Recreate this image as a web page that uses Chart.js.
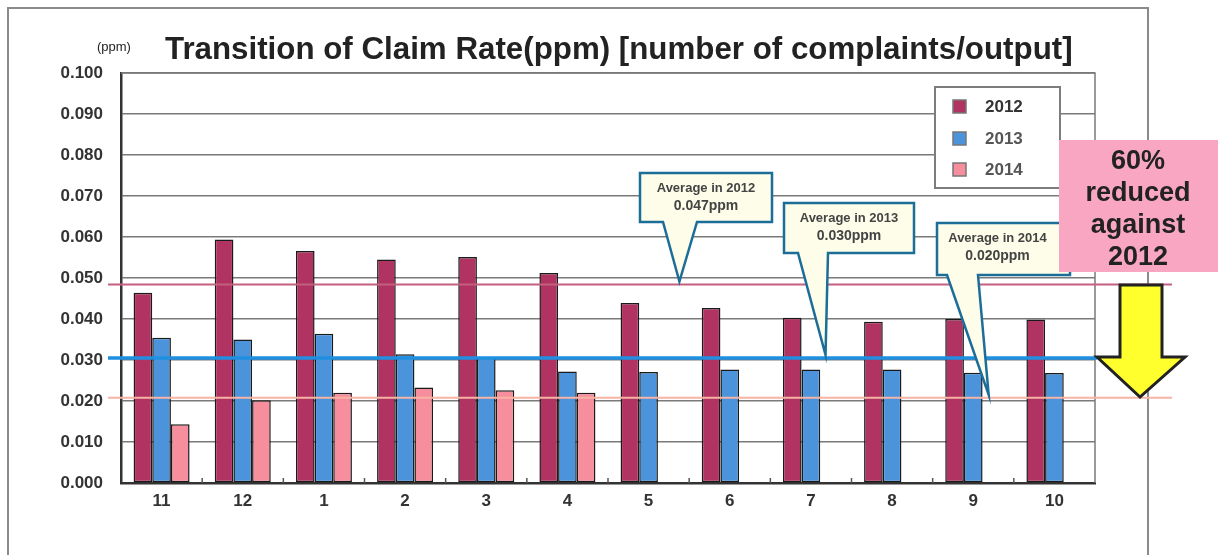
<!DOCTYPE html>
<html>
<head>
<meta charset="utf-8">
<script src="https://cdn.jsdelivr.net/npm/chart.js@4.4.1/dist/chart.umd.min.js"></script>
<style>
  html, body { margin: 0; padding: 0; background: #fff; }
  canvas { display: block; }
</style>
</head>
<body>
<canvas id="chart" width="1218" height="555"></canvas>
<script>
// months, Nov 2011/12/13 -> Oct
const months = ["11", "12", "1", "2", "3", "4", "5", "6", "7", "8", "9", "10"];
const years = ["2012", "2013", "2014"];
const rate2012 = [0.0464, 0.0594, 0.0566, 0.0545, 0.0551, 0.0512, 0.0439, 0.0427, 0.0403, 0.0393, 0.0400, 0.0399];
const rate2013 = [0.0354, 0.0350, 0.0364, 0.0314, 0.0306, 0.0272, 0.0271, 0.0277, 0.0277, 0.0277, 0.0269, 0.0268];
const rate2014 = [0.0143, 0.0202, 0.0220, 0.0233, 0.0226, 0.0220, null, null, null, null, null, null];
const yTicks = [0, 0.01, 0.02, 0.03, 0.04, 0.05, 0.06, 0.07, 0.08, 0.09, 0.1];

// average lines (level as drawn) and their callout texts
const avgLevels = [0.0484, 0.0305, 0.0208];
const avgTexts = ["0.047ppm", "0.030ppm", "0.020ppm"];
const avgTipIndex = [6.38, 8.18, 10.19];

const barColors = ["#b03362", "#4b93db", "#f78e9d"];
const lineColors = ["#c4607f", "#1f8fe0", "#f7b3a4"];
const lineWidths = [2, 3.5, 2];

const FONT = "'Liberation Sans', Arial, sans-serif";

const decor = {
  id: "decor",
  beforeDraw(chart) {
    const ctx = chart.ctx;
    ctx.save();
    ctx.fillStyle = "#fff";
    ctx.fillRect(0, 0, chart.width, chart.height);
    // outer frame
    ctx.strokeStyle = "#8a8a8a";
    ctx.lineWidth = 2;
    ctx.strokeRect(8, 8, 1140, 560);
    ctx.restore();
  },
  beforeDatasetsDraw(chart) {
    const ctx = chart.ctx;
    const a = chart.chartArea;
    const x = chart.scales.x;
    ctx.save();
    // plot border (top/right grey)
    ctx.strokeStyle = "#7a7a7a";
    ctx.lineWidth = 1.5;
    ctx.beginPath();
    ctx.moveTo(a.left, a.top);
    ctx.lineTo(a.right, a.top);
    ctx.lineTo(a.right, a.bottom);
    ctx.stroke();
    // little ticks between categories
    ctx.strokeStyle = "#555";
    ctx.lineWidth = 1.5;
    for (let i = 1; i < months.length; i++) {
      const px = x.getPixelForValue(i - 0.5);
      ctx.beginPath();
      ctx.moveTo(px, a.bottom);
      ctx.lineTo(px, a.bottom - 5);
      ctx.stroke();
    }
    ctx.restore();
  },
  afterDatasetsDraw(chart) {
    const ctx = chart.ctx;
    const a = chart.chartArea;
    const x = chart.scales.x;
    const y = chart.scales.y;
    ctx.save();

    // average lines
    const lineEnds = [1172, 1097, 1172];
    avgLevels.forEach((v, i) => {
      const py = y.getPixelForValue(v);
      ctx.strokeStyle = lineColors[i];
      ctx.lineWidth = lineWidths[i];
      ctx.beginPath();
      ctx.moveTo(108, py);
      ctx.lineTo(lineEnds[i], py);
      ctx.stroke();
    });

    // callouts
    const boxes = [
      { l: 640, t: 173, r: 772, b: 222, p1: 663, p2: 697 },
      { l: 784, t: 203, r: 914, b: 253, p1: 798, p2: 828 },
      { l: 937, t: 223, r: 1070, b: 275, p1: 947, p2: 978 }
    ];
    boxes.forEach((bx, i) => {
      const tx = x.getPixelForValue(avgTipIndex[i]);
      const ty = y.getPixelForValue(avgLevels[i]) - 3;
      ctx.beginPath();
      ctx.moveTo(bx.l, bx.t);
      ctx.lineTo(bx.r, bx.t);
      ctx.lineTo(bx.r, bx.b);
      ctx.lineTo(bx.p2, bx.b);
      ctx.lineTo(tx, ty);
      ctx.lineTo(bx.p1, bx.b);
      ctx.lineTo(bx.l, bx.b);
      ctx.closePath();
      ctx.fillStyle = "#fdfde9";
      ctx.fill();
      ctx.strokeStyle = "#1c6d98";
      ctx.lineWidth = 2.5;
      ctx.lineJoin = "miter";
      ctx.stroke();
      ctx.fillStyle = "#444";
      ctx.textAlign = "center";
      ctx.textBaseline = "alphabetic";
      ctx.font = "bold 13px " + FONT;
      const cx = (bx.l + Math.min(bx.r, 1058)) / 2;
      ctx.fillText("Average in " + years[i], cx, bx.t + 19);
      ctx.font = "bold 14px " + FONT;
      ctx.fillText(avgTexts[i], cx, bx.t + 37);
    });

    // legend
    ctx.fillStyle = "#fff";
    ctx.fillRect(935, 87, 125, 101);
    ctx.strokeStyle = "#7d7d7d";
    ctx.lineWidth = 2;
    ctx.strokeRect(935, 87, 125, 101);
    const rows = [106, 138, 169];
    years.forEach((yr, i) => {
      ctx.fillStyle = barColors[i];
      ctx.fillRect(953, rows[i] - 6, 13, 13);
      ctx.strokeStyle = "#777";
      ctx.lineWidth = 1.5;
      ctx.strokeRect(953, rows[i] - 6, 13, 13);
      ctx.fillStyle = i === 0 ? "#333" : "#555";
      ctx.font = "bold 17px " + FONT;
      ctx.textAlign = "left";
      ctx.textBaseline = "middle";
      ctx.fillText(yr, 985, rows[i] + 1);
    });

    // pink note box
    ctx.fillStyle = "#f8a6c1";
    ctx.fillRect(1059, 140, 159, 132);
    ctx.fillStyle = "#222";
    ctx.font = "bold 27px " + FONT;
    ctx.textAlign = "center";
    ctx.textBaseline = "alphabetic";
    const noteLines = ["60%", "reduced", "against", "2012"];
    noteLines.forEach((t, i) => ctx.fillText(t, 1138, 169 + i * 32));

    // yellow arrow
    ctx.beginPath();
    ctx.moveTo(1120, 285);
    ctx.lineTo(1162, 285);
    ctx.lineTo(1162, 357);
    ctx.lineTo(1185, 357);
    ctx.lineTo(1140, 397);
    ctx.lineTo(1097, 357);
    ctx.lineTo(1120, 357);
    ctx.closePath();
    ctx.fillStyle = "#ffff2e";
    ctx.fill();
    ctx.strokeStyle = "#222";
    ctx.lineWidth = 3;
    ctx.stroke();

    // titles
    ctx.fillStyle = "#222";
    ctx.textAlign = "left";
    ctx.font = "13px " + FONT;
    ctx.fillText("(ppm)", 97, 51);
    const title = "Transition of Claim Rate(ppm) [number of complaints/output]";
    ctx.font = "bold 29px " + FONT;
    const w = ctx.measureText(title).width;
    const size = 29 * 907 / w;
    ctx.font = "bold " + size.toFixed(1) + "px " + FONT;
    ctx.fillText(title, 165, 59);

    ctx.restore();
  }
};

const config = {
  type: "bar",
  data: {
    labels: months,
    datasets: [
      { label: years[0], data: rate2012, backgroundColor: barColors[0] },
      { label: years[1], data: rate2013, backgroundColor: barColors[1] },
      { label: years[2], data: rate2014, backgroundColor: barColors[2] }
    ].map(d => Object.assign(d, {
      borderColor: "#1a1a1a",
      borderWidth: 1.5,
      borderSkipped: false,
      categoryPercentage: 0.69,
      barPercentage: 1.0
    }))
  },
  options: {
    responsive: false,
    animation: false,
    events: [],
    layout: { padding: { left: 0, right: 123, top: 73, bottom: 32 } },
    plugins: {
      legend: { display: false },
      title: { display: false },
      tooltip: { enabled: false }
    },
    scales: {
      x: {
        afterFit(scale) { scale.height = 40; },
        grid: { display: false, drawTicks: false },
        border: { display: true, color: "#333", width: 2.5 },
        ticks: {
          color: "#333",
          padding: 8,
          font: { family: FONT, size: 17, weight: "bold" }
        }
      },
      y: {
        min: 0,
        max: 0.1,
        afterFit(scale) { scale.width = 121; },
        afterBuildTicks(scale) { scale.ticks = yTicks.map(v => ({ value: v })); },
        grid: { color: "#7a7a7a", lineWidth: 1.5, drawTicks: false },
        border: { display: true, color: "#333", width: 2.5 },
        ticks: {
          color: "#333",
          padding: 18,
          font: { family: FONT, size: 17, weight: "bold" },
          callback: v => Number(v).toFixed(3)
        }
      }
    }
  },
  plugins: [decor]
};

new Chart(document.getElementById("chart"), config);
</script>
</body>
</html>
